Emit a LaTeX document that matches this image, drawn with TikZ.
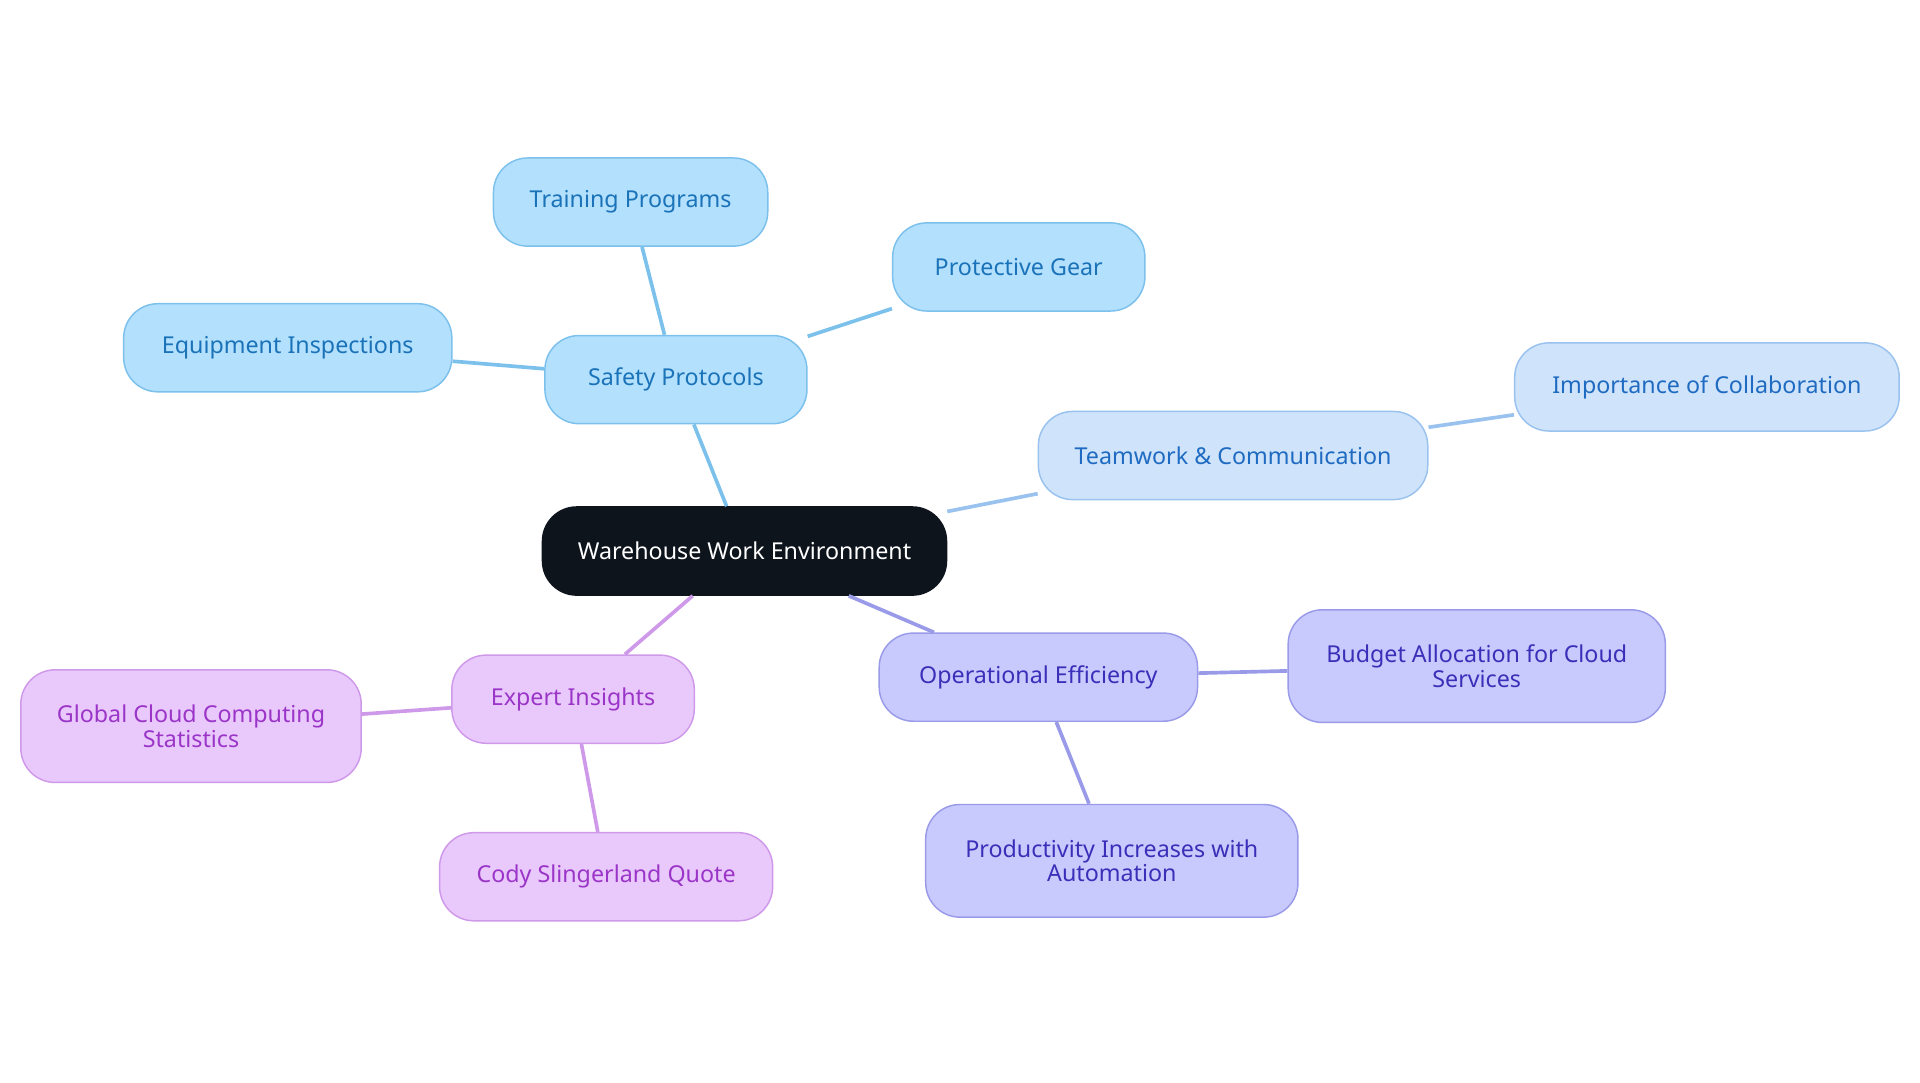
\documentclass[tikz,border=0pt]{standalone}
\usepackage{fontspec}
\setmainfont{Noto Sans}
\begin{document}
\begin{tikzpicture}[x=1pt,y=-1pt,
 base/.style={rounded corners=28pt,line width=1.2pt,align=center,font=\fontsize{19}{20}\selectfont,inner sep=0pt},
 sp/.style={base,fill=cSP,draw=eSP,text=tSP},
 tw/.style={base,fill=cTW,draw=eTW,text=tTW},
 oe/.style={base,fill=cOE,draw=eOE,text=tOE},
 ei/.style={base,fill=cEI,draw=eEI,text=tEI},
 ln/.style={line width=3pt}]
\definecolor{cSP}{HTML}{B3E0FD}\definecolor{eSP}{HTML}{7CC0EC}\definecolor{tSP}{HTML}{1A73B8}
\definecolor{cTW}{HTML}{CFE3FB}\definecolor{eTW}{HTML}{99C2EE}\definecolor{tTW}{HTML}{1F6BC1}
\definecolor{cOE}{HTML}{C8CAFD}\definecolor{eOE}{HTML}{9A9BE8}\definecolor{tOE}{HTML}{3A2FB8}
\definecolor{cEI}{HTML}{E9C9FB}\definecolor{eEI}{HTML}{CF99EA}\definecolor{tEI}{HTML}{9B35C8}
\useasboundingbox (0,0) rectangle (1568,884);
\node[base,fill={rgb,255:red,13;green,20;blue,28},draw={rgb,255:red,13;green,20;blue,28},text=white,minimum width=330pt,minimum height=72pt] (c) at (608,450) {Warehouse Work Environment};
\node[sp,minimum width=214pt,minimum height=72pt] (s) at (552,310) {Safety Protocols};
\node[sp,minimum width=224pt,minimum height=72pt] (s1) at (515,165) {Training Programs};
\node[sp,minimum width=206pt,minimum height=72pt] (s2) at (832,218) {Protective Gear};
\node[sp,minimum width=268pt,minimum height=72pt] (s3) at (235,284) {Equipment Inspections};
\node[tw,minimum width=318pt,minimum height=72pt] (t) at (1007,372) {Teamwork \& Communication};
\node[tw,minimum width=314pt,minimum height=72pt] (t1) at (1394,316) {Importance of Collaboration};
\node[oe,minimum width=260pt,minimum height=72pt] (o) at (848,553) {Operational Efficiency};
\node[oe,minimum width=308pt,minimum height=92pt] (o1) at (1206,544) {Budget Allocation for Cloud\\Services};
\node[oe,minimum width=304pt,minimum height=92pt] (o2) at (908,703) {Productivity Increases with\\Automation};
\node[ei,minimum width=198pt,minimum height=72pt] (e) at (468,571) {Expert Insights};
\node[ei,minimum width=278pt,minimum height=92pt] (e1) at (156,593) {Global Cloud Computing\\Statistics};
\node[ei,minimum width=272pt,minimum height=72pt] (e2) at (495,716) {Cody Slingerland Quote};
\begin{scope}[on background layer/.style={}]
\end{scope}
\begin{pgfonlayer}{main}\end{pgfonlayer}
\draw[ln,eSP] (c) -- (s); \draw[ln,eSP] (s) -- (s1); \draw[ln,eSP] (s) -- (s2); \draw[ln,eSP] (s) -- (s3);
\draw[ln,eTW] (c) -- (t); \draw[ln,eTW] (t) -- (t1);
\draw[ln,eOE] (c) -- (o); \draw[ln,eOE] (o) -- (o1); \draw[ln,eOE] (o) -- (o2);
\draw[ln,eEI] (c) -- (e); \draw[ln,eEI] (e) -- (e1); \draw[ln,eEI] (e) -- (e2);
\end{tikzpicture}
\end{document}
